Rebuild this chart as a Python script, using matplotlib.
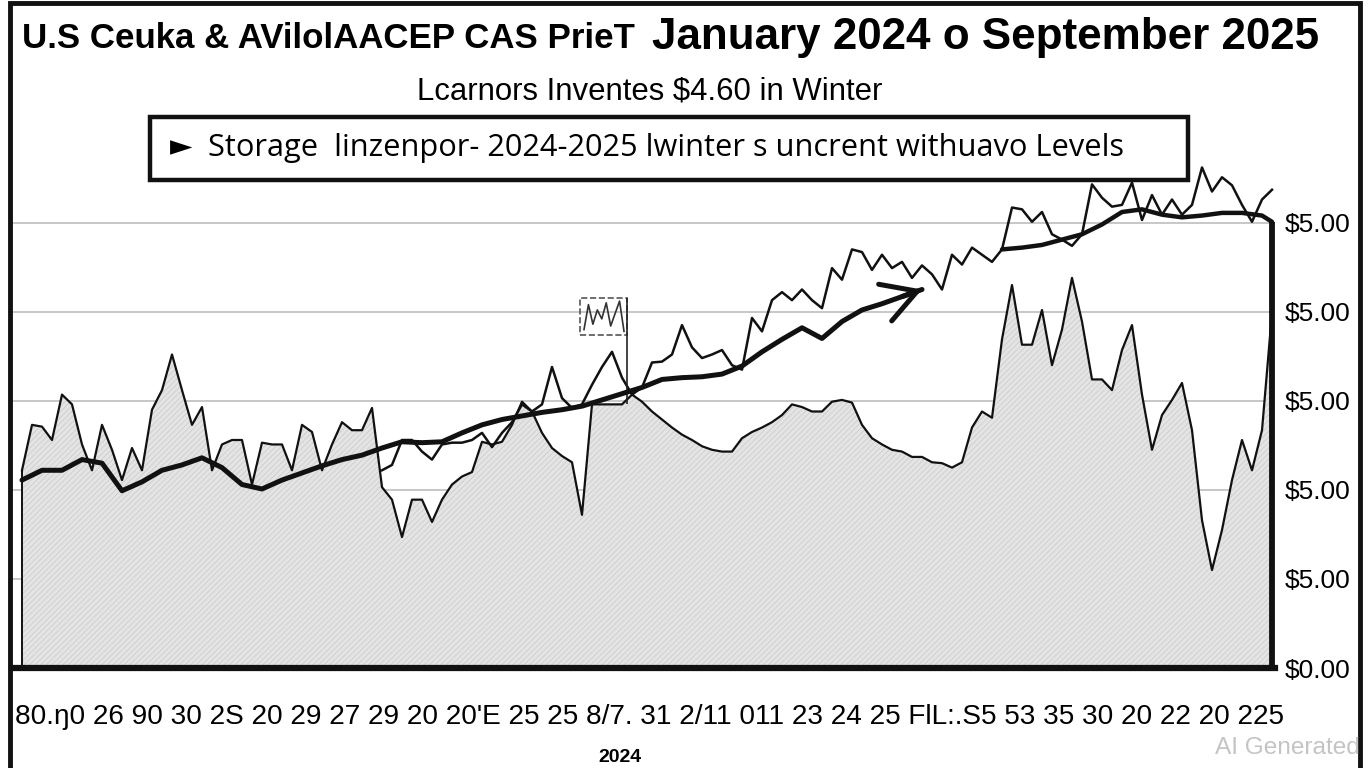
import numpy as np
import matplotlib.pyplot as plt
from matplotlib.patches import Rectangle

plt.rcParams['hatch.linewidth'] = 0.5

W, H = 1368, 768

# storage-like filled series, one value every 5 days from day 0
storage = [2.22, 2.73, 2.71, 2.56, 3.07, 2.96, 2.51, 2.22, 2.73, 2.45,
           2.11, 2.47, 2.22, 2.90, 3.12, 3.52, 3.12, 2.73, 2.93, 2.22,
           2.51, 2.56, 2.56, 2.06, 2.53, 2.51, 2.51, 2.22, 2.73, 2.65,
           2.22, 2.51, 2.76, 2.67, 2.67, 2.92, 2.03, 1.89, 1.47, 1.89,
           1.89, 1.64, 1.89, 2.06, 2.15, 2.20, 2.54, 2.51, 2.54, 2.73,
           2.99, 2.88, 2.64, 2.47, 2.38, 2.31, 1.72, 2.96, 2.96, 2.96,
           2.96, 3.07, 2.99, 2.88, 2.79, 2.70, 2.62, 2.56, 2.49, 2.45,
           2.43, 2.43, 2.58, 2.65, 2.70, 2.76, 2.84, 2.96, 2.93, 2.88,
           2.88, 2.99, 3.01, 2.98, 2.73, 2.58, 2.51, 2.45, 2.43, 2.37,
           2.37, 2.31, 2.30, 2.25, 2.31, 2.70, 2.88, 2.81, 3.69, 4.30,
           3.63, 3.63, 4.02, 3.40, 3.80, 4.38, 3.89, 3.24, 3.24, 3.12,
           3.57, 3.85, 3.07, 2.45, 2.84, 3.01, 3.20, 2.67, 1.66, 1.10,
           1.55, 2.11, 2.56, 2.22, 2.67, 3.99]

# price series, one value every 5 days from day 180
price_start = 180
price = [2.22, 2.28, 2.56, 2.56, 2.43, 2.34, 2.51, 2.53, 2.53, 2.56,
         2.64, 2.48, 2.64, 2.76, 2.96, 2.88, 2.96, 3.38, 3.03, 2.92,
         2.96, 3.18, 3.38, 3.55, 3.26, 3.07, 3.15, 3.43, 3.44, 3.52,
         3.85, 3.60, 3.48, 3.52, 3.57, 3.40, 3.35, 3.93, 3.78, 4.13,
         4.22, 4.13, 4.25, 4.13, 4.04, 4.49, 4.36, 4.70, 4.67, 4.47,
         4.64, 4.49, 4.56, 4.38, 4.52, 4.42, 4.25, 4.64, 4.53, 4.72,
         4.64, 4.56, 4.70, 5.17, 5.15, 5.01, 5.12, 4.87, 4.81, 4.74,
         4.87, 5.43, 5.28, 5.18, 5.20, 5.45, 5.03, 5.31, 5.09, 5.26,
         5.09, 5.20, 5.62, 5.35, 5.51, 5.42, 5.20, 5.01, 5.26, 5.37]

# smoothed trend, every 10 days from day 0 up to the arrow
trend_a = [2.11, 2.22, 2.22, 2.34, 2.30, 1.99, 2.09, 2.22, 2.28, 2.36,
           2.25, 2.06, 2.01, 2.11, 2.19, 2.27, 2.34, 2.39, 2.47, 2.54,
           2.53, 2.54, 2.64, 2.73, 2.79, 2.83, 2.87, 2.90, 2.94, 3.01,
           3.08, 3.15, 3.24, 3.26, 3.27, 3.30, 3.39, 3.55, 3.69, 3.82,
           3.70, 3.89, 4.02, 4.09, 4.17, 4.25]

trend_b_days = [490, 500, 510, 520, 530, 540, 550, 560, 570, 580, 590,
                600, 610, 620, 625]
trend_b = [4.70, 4.72, 4.75, 4.81, 4.87, 4.98, 5.12, 5.15, 5.09, 5.06,
           5.08, 5.11, 5.11, 5.08, 5.01]

inset_vals = [3.80, 4.08, 3.86, 4.02, 3.92, 4.10, 3.84, 3.98, 4.12, 3.78]

y_labels = ['$0.00', '$5.00', '$5.00', '$5.00', '$5.00', '$5.00']
x_labels = ['80.\u014b0', '26', '90', '30', '2S', '20', '29', '27', '29', '20',
            "20'E", '25', '25', '8/7.', '31', '2/11', '011', '23', '24',
            '25', 'FlL:.S5', '53', '35', '30', '20', '22', '20', '225']

title_left = 'U.S Ceuka & AVilolAACEP CAS PrieT'
title_right = 'January 2024 o September 2025'
subtitle = 'Lcarnors Inventes $4.60 in Winter'
box_text = 'Storage  linzenpor- 2024-2025 lwinter s uncrent withuavo Levels'

storage_days = np.arange(len(storage)) * 5
price_days = price_start + np.arange(len(price)) * 5
trend_a_days = np.arange(len(trend_a)) * 10

fig = plt.figure(figsize=(W / 100, H / 100), dpi=100)
fig.patch.set_facecolor('white')


def px(x, y):
    return x / W, 1 - y / H


ax = fig.add_axes([12 / W, 1 - 668 / H, (1275 - 12) / W, (668 - 155) / H])
ax.set_xlim(-5, 626.5)
ax.set_ylim(0, 5.76)

ax.fill_between(storage_days, 0, storage, facecolor='#e4e4e4',
                edgecolor='#c9c9c9', hatch='//////', linewidth=0, zorder=1)
ax.plot(storage_days, storage, color='#111111', lw=1.6, zorder=3)
ax.vlines(storage_days[0], 0, storage[0], color='#111111', lw=1.4, zorder=3)
ax.plot(price_days, price, color='#111111', lw=1.8, zorder=4)

ax.plot(trend_a_days, trend_a, color='#111111', lw=3.6, zorder=5,
        solid_capstyle='round', solid_joinstyle='round')
ax.annotate('', xy=(trend_a_days[-1], trend_a[-1]),
            xytext=(trend_a_days[-2], trend_a[-2]),
            arrowprops=dict(arrowstyle='->,head_length=0.7,head_width=0.4',
                            lw=3.6, color='#111111', mutation_scale=35,
                            shrinkA=0, shrinkB=0), zorder=5)
ax.plot(trend_b_days, trend_b, color='#111111', lw=3.2, zorder=5,
        solid_capstyle='round')
ax.vlines(trend_b_days[-1], 0, trend_b[-1], color='#111111', lw=4.2, zorder=6)

# small dashed inset
ax.add_patch(Rectangle((279, 3.74), 23.5, 0.42, fill=False, ls='--',
                       lw=1.2, ec='#555555', zorder=4))
ax.plot(np.linspace(281, 301, len(inset_vals)), inset_vals,
        color='#333333', lw=1.2, zorder=4)
ax.vlines(302.5, 2.96, 4.16, color='#222222', lw=1.2, zorder=4)

ax.grid(axis='y', color='#bdbdbd', lw=1.2, zorder=0)
ax.set_axisbelow(True)
for side in ['top', 'left', 'right']:
    ax.spines[side].set_visible(False)
ax.spines['bottom'].set_linewidth(4.5)
ax.spines['bottom'].set_color('#111111')
ax.set_xticks([])
ax.yaxis.tick_right()
ax.set_yticks(range(len(y_labels)))
ax.set_yticklabels(y_labels, fontsize=19, family=['Liberation Sans', 'DejaVu Sans'])
ax.tick_params(axis='y', length=0, pad=7)

# outer frame
fig.add_artist(Rectangle((10 / W, -0.05), (1360 - 10) / W, 1.05 - 3 / H,
                         transform=fig.transFigure, fill=False, lw=3.5,
                         ec='#111111'))
# statement box
fig.add_artist(Rectangle(px(150, 180), (1188 - 150) / W, 63 / H,
                         transform=fig.transFigure, fill=False, lw=3.2,
                         ec='#111111'))

renderer = fig.canvas.get_renderer()


def fit(t, width):
    bb = t.get_window_extent(renderer)
    t.set_fontsize(t.get_fontsize() * width / bb.width)


narrow = ['Liberation Sans Narrow', 'Liberation Sans', 'DejaVu Sans']

t = fig.text(*px(22, 38), title_left, ha='left', va='center', fontsize=30,
             fontweight='bold', family=narrow)
fit(t, 613)
t = fig.text(*px(652, 38), title_right, ha='left', va='center', fontsize=30,
             fontweight='bold', family=['Liberation Sans', 'DejaVu Sans'])
fit(t, 668)
t = fig.text(*px(650, 92), subtitle, ha='center', va='center', fontsize=21,
             family=narrow)
fit(t, 465)
fig.text(*px(181, 147), '\u25ba', ha='center', va='center', fontsize=21,
         family='DejaVu Sans')
t = fig.text(*px(208, 148), box_text, ha='left', va='center', fontsize=20,
             family=['Open Sans', 'DejaVu Sans'])
fit(t, 914)
t = fig.text(*px(15, 717), ' '.join(x_labels), ha='left', va='center',
             fontsize=20, family=narrow)
fit(t, 1275)
t = fig.text(*px(1360, 748), 'AI Generated', ha='right', va='center',
             fontsize=15, color='#c4c4c4', family=narrow)
fit(t, 145)
fig.text(*px(620, 766), '2024', ha='center', va='bottom', fontsize=14,
         fontweight='bold', family=['Liberation Sans', 'DejaVu Sans'])

fig.savefig('out.png', dpi=100, facecolor='white')
